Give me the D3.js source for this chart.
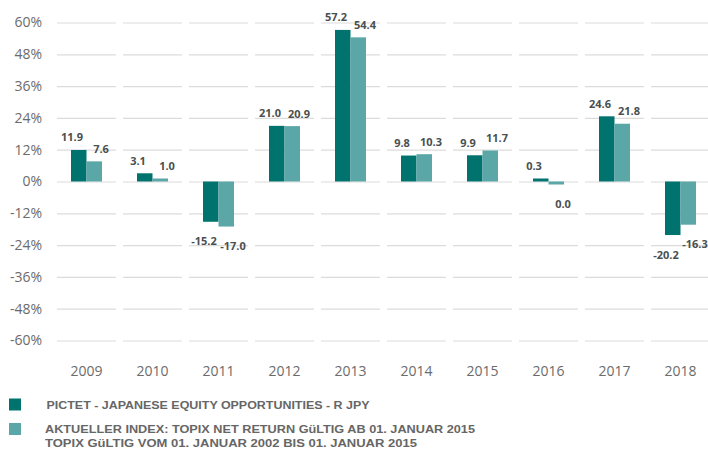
<!DOCTYPE html>
<html>
<head>
<meta charset="utf-8">
<script src="https://cdn.jsdelivr.net/npm/d3@7"></script>
<style>
  body { margin: 0; background: #fff; }
  svg { display: block; }
</style>
</head>
<body>
<div id="chart"></div>
<script>
// Yearly performance, fund vs. index (in %)
var years = ["2009", "2010", "2011", "2012", "2013", "2014", "2015", "2016", "2017", "2018"];
var fundValues = [11.9, 3.1, -15.2, 21.0, 57.2, 9.8, 9.9, 0.3, 24.6, -20.2];
var indexValues = [7.6, 1.0, -17.0, 20.9, 54.4, 10.3, 11.7, -0.04, 21.8, -16.3];
var yTicks = [-60, -48, -36, -24, -12, 0, 12, 24, 36, 48, 60];
var seriesNames = ["PICTET - JAPANESE EQUITY OPPORTUNITIES - R JPY",
  "AKTUELLER INDEX: TOPIX NET RETURN GüLTIG AB 01. JANUAR 2015"];
var legendExtra = "TOPIX GüLTIG VOM 01. JANUAR 2002 BIS 01. JANUAR 2015";

var width = 708, height = 450;
var colors = ["#00736e", "#5ba6a6"];
var font = "'Open Sans', sans-serif";
var legendFont = "'Liberation Sans', Arial, sans-serif";

var svg = d3.select("#chart").append("svg")
  .attr("width", width)
  .attr("height", height);

// scales
var x = d3.scaleBand().domain(years).range([53.5, 713.5]);
var y = d3.scaleLinear().domain([-60, 60]).range([340.5, 22.5]);
var barW = 15.5;

// gridlines, one segment per year band
var grid = svg.append("g");
years.forEach(function(yr) {
  grid.selectAll(null)
    .data(yTicks)
    .enter().append("line")
    .attr("x1", x(yr) + 3.5)
    .attr("x2", x(yr) + x.bandwidth() - 3.5)
    .attr("y1", function(d) { return y(d) + 0.5; })
    .attr("y2", function(d) { return y(d) + 0.5; })
    .attr("stroke", "#dcdcdc")
    .attr("stroke-width", 1.2);
});

// y axis labels
var yAxis = svg.append("g")
  .attr("transform", "translate(42,0)")
  .call(d3.axisLeft(y).tickValues(yTicks).tickSize(0).tickPadding(0)
    .tickFormat(function(d) { return (d < 0 ? "-" : "") + Math.abs(d) + "%"; }));
yAxis.select(".domain").remove();
yAxis.selectAll("text")
  .attr("fill", "#6b6b6b")
  .style("font-family", font)
  .style("font-size", "14px");

// x axis labels
var xAxis = svg.append("g")
  .attr("transform", "translate(0,361)")
  .call(d3.axisBottom(x).tickSize(0).tickPadding(5));
xAxis.select(".domain").remove();
xAxis.selectAll("text")
  .attr("fill", "#6b6b6b")
  .style("font-family", font)
  .style("font-size", "14px");

// bars
var rows = years.map(function(yr, i) {
  return { year: yr, vals: [fundValues[i], indexValues[i]] };
});

function fmt(v) {
  var s = Math.abs(v).toFixed(1);
  return (v < 0 && s !== "0.0" ? "-" : "") + s;
}

var groups = svg.selectAll("g.year")
  .data(rows)
  .enter().append("g")
  .attr("class", "year");

groups.each(function(r) {
  var g = d3.select(this);
  var cx = x(r.year) + x.bandwidth() / 2;
  r.vals.forEach(function(v, k) {
    var bx = cx - barW + k * barW;
    var h = Math.max(Math.abs(y(v) - y(0)), 3);
    var top = v < 0 ? y(0) : y(0) - h;
    g.append("rect")
      .attr("x", bx)
      .attr("y", top)
      .attr("width", barW)
      .attr("height", h)
      .attr("fill", colors[k]);
    var end = v < 0 ? top + h + 19 : top - 13;
    g.append("text")
      .attr("x", k === 0 ? bx + 1 : bx + barW - 1)
      .attr("y", end)
      .attr("text-anchor", "middle")
      .attr("dominant-baseline", "central")
      .attr("fill", "#4a4f4f")
      .style("font-family", font)
      .style("font-weight", "700")
      .style("font-size", "11px")
      .text(fmt(v));
  });
});

// legend
var legend = svg.append("g");
var legY = [404.5, 429];
var legW = [323, 430];
seriesNames.forEach(function(name, k) {
  legend.append("rect")
    .attr("x", 9)
    .attr("y", legY[k] - 6)
    .attr("width", 12)
    .attr("height", 12)
    .attr("fill", colors[k]);
  legend.append("text")
    .attr("x", k === 0 ? 46.5 : 45)
    .attr("y", legY[k])
    .attr("dominant-baseline", "central")
    .attr("fill", "#666")
    .attr("textLength", legW[k])
    .attr("lengthAdjust", "spacingAndGlyphs")
    .style("font-family", legendFont)
    .style("font-weight", "700")
    .style("font-size", "11.5px")
    .text(name);
});
legend.append("text")
  .attr("x", 45)
  .attr("y", 443)
  .attr("dominant-baseline", "central")
  .attr("fill", "#666")
  .attr("textLength", 372)
  .attr("lengthAdjust", "spacingAndGlyphs")
  .style("font-family", legendFont)
  .style("font-weight", "700")
  .style("font-size", "11.5px")
  .text(legendExtra);
</script>
</body>
</html>
